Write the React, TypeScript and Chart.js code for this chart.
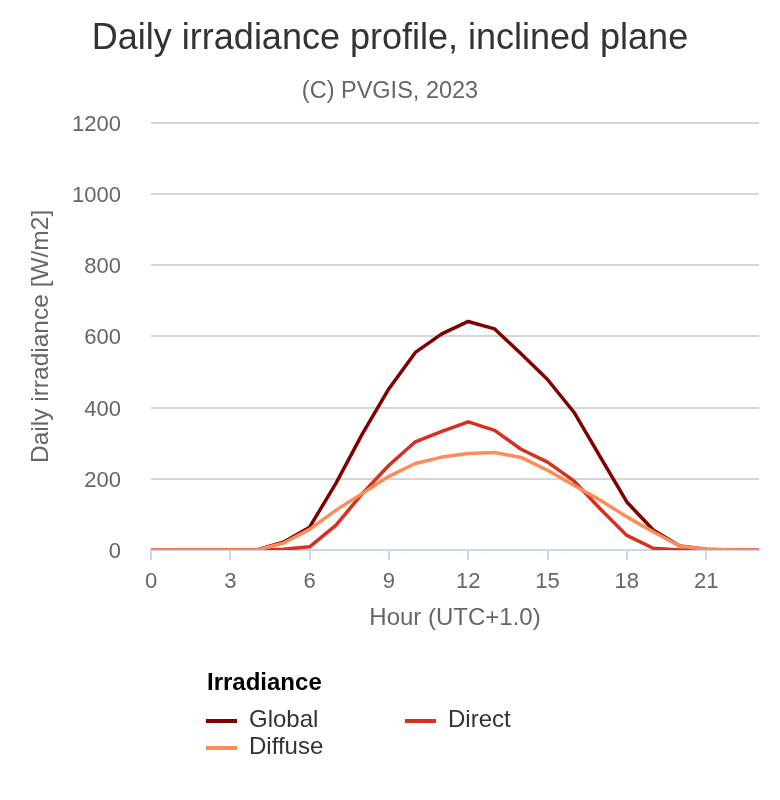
import React, { useEffect, useRef } from "react";
import { Chart, registerables } from "chart.js";

Chart.register(...registerables);

const FONT = '"Liberation Sans", Arial, Helvetica, sans-serif';

const chartTitle = "Daily irradiance profile, inclined plane";
const chartSubtitle = "(C) PVGIS, 2023";
const xAxisTitle = "Hour (UTC+1.0)";
const yAxisTitle = "Daily irradiance [W/m2]";
const legendTitle = "Irradiance";

const hours = [0, 1, 2, 3, 4, 5, 6, 7, 8, 9, 10, 11, 12, 13, 14, 15, 16, 17, 18, 19, 20, 21, 22, 23];
const globalValues = [0, 0, 0, 0, 0, 22, 64, 188, 327, 453, 555, 607, 642, 621, 551, 479, 387, 261, 135, 56, 11, 2, 0, 0];
const directValues = [0, 0, 0, 0, 0, 2, 9, 70, 159, 238, 304, 333, 360, 336, 283, 247, 194, 115, 41, 5, 0, 0, 0, 0];
const diffuseValues = [0, 0, 0, 0, 0, 19, 58, 112, 159, 207, 243, 261, 271, 274, 260, 224, 182, 140, 93, 51, 11, 2, 0, 0];

const xTickValues = [0, 3, 6, 9, 12, 15, 18, 21];
const yTickValues = [0, 200, 400, 600, 800, 1000, 1200];

const seriesNames = ["Global", "Direct", "Diffuse"];
const seriesColors = ["#800000", "#d7301f", "#fc8d59"];
const seriesValues = [globalValues, directValues, diffuseValues];

export default function App() {
  const canvasRef = useRef<HTMLCanvasElement | null>(null);

  useEffect(() => {
    const canvas = canvasRef.current;
    if (!canvas) return;
    const datasets = seriesNames.map((name, i) => ({
      label: name,
      data: hours.map((h, j) => ({ x: h, y: seriesValues[i][j] })),
      borderColor: seriesColors[i],
      backgroundColor: seriesColors[i],
      borderWidth: 3.5,
      pointRadius: 0,
      pointHoverRadius: 0,
      tension: 0,
      fill: false,
      order: seriesNames.length - i,
      borderJoinStyle: "round" as const,
      borderCapStyle: "round" as const,
    }));

    const chart = new Chart(canvas, {
      type: "line",
      data: { datasets },
      options: {
        responsive: false,
        animation: false,
        layout: { padding: { top: 0, bottom: 150, left: 0, right: 0 } },
        plugins: {
          legend: { display: false },
          tooltip: { enabled: false },
          title: {
            display: true,
            text: chartTitle,
            color: "#333333",
            font: { family: FONT, size: 36, weight: "normal" },
            padding: { top: 17, bottom: 0 },
          },
          subtitle: {
            display: true,
            text: chartSubtitle,
            color: "#666666",
            font: { family: FONT, size: 23.5, weight: "normal" },
            padding: { top: 17, bottom: 17.4 },
          },
        },
        scales: {
          x: {
            type: "linear",
            min: 0,
            max: 23,
            afterBuildTicks: (s: any) => {
              s.ticks = xTickValues.map((v) => ({ value: v }));
            },
            afterFit: (s: any) => {
              s.height = 100;
            },
            grid: {
              display: true,
              drawOnChartArea: false,
              drawTicks: true,
              tickLength: 10,
              color: "#ccd6eb",
              lineWidth: 2,
            },
            border: { display: true, color: "#ccd6eb", width: 2 },
            ticks: {
              color: "#666666",
              font: { family: FONT, size: 22 },
              padding: 8.8,
              maxRotation: 0,
              autoSkip: false,
            },
            title: {
              display: true,
              text: xAxisTitle,
              color: "#666666",
              font: { family: FONT, size: 24 },
              padding: { top: 0, bottom: 17.6 },
            },
          },
          y: {
            type: "linear",
            min: 0,
            max: 1200,
            afterBuildTicks: (s: any) => {
              s.ticks = yTickValues.map((v) => ({ value: v }));
            },
            afterFit: (s: any) => {
              s.width = 151;
            },
            grid: {
              display: true,
              drawTicks: false,
              color: "#d6d6d6",
              lineWidth: 2,
            },
            border: { display: false },
            ticks: {
              color: "#666666",
              font: { family: FONT, size: 22 },
              padding: 30,
              labelOffset: 2,
              callback: (v: any) => String(v),
            },
            title: {
              display: true,
              text: yAxisTitle,
              color: "#666666",
              font: { family: FONT, size: 24.5 },
              padding: { top: 26.4, bottom: 0 },
            },
          },
          yRightSpace: {
            type: "linear",
            position: "right",
            display: true,
            min: 0,
            max: 1200,
            afterFit: (s: any) => {
              s.width = 21;
            },
            grid: { display: false, drawTicks: false },
            border: { display: false },
            ticks: { display: false },
            title: { display: false },
          },
        },
      },
    });
    return () => chart.destroy();
  }, []);

  return (
    <div style={{ position: "absolute", left: 0, top: 0, width: 780, height: 800, background: "#ffffff", fontFamily: FONT }}>
      <canvas ref={canvasRef} width={780} height={800} style={{ position: "absolute", left: 0, top: 0, width: 780, height: 800 }} />
      <div
        style={{
          position: "absolute",
          left: 207,
          top: 669,
          fontSize: 24,
          lineHeight: "26.5px",
          fontWeight: "bold",
          color: "#000000",
          whiteSpace: "nowrap",
        }}
      >
        {legendTitle}
      </div>
      <div
        style={{
          position: "absolute",
          left: 206,
          top: 706,
          display: "grid",
          gridTemplateColumns: "199px 199px",
          gridAutoRows: "26.5px",
        }}
      >
        {seriesNames.map((name, i) => (
          <div key={name} style={{ position: "relative", height: 26.5, whiteSpace: "nowrap" }}>
            <div
              style={{
                position: "absolute",
                left: 0,
                top: 13,
                width: 31,
                height: 4,
                background: seriesColors[i],
              }}
            />
            <span
              style={{
                position: "absolute",
                left: 43,
                top: 0,
                fontSize: 24,
                lineHeight: "26.5px",
                color: "#333333",
              }}
            >
              {name}
            </span>
          </div>
        ))}
      </div>
    </div>
  );
}
